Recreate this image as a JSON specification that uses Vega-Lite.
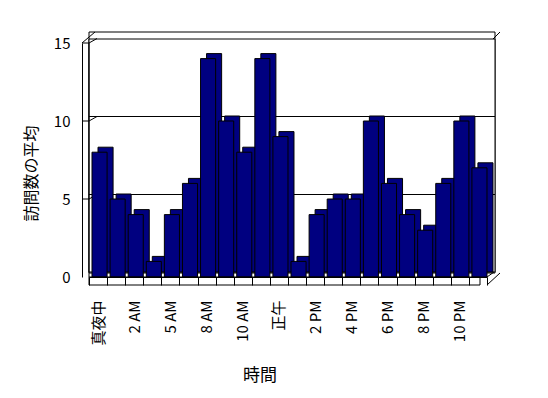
{
  "$schema": "https://vega.github.io/schema/vega-lite/v6.json",
  "width": 398,
  "height": 234,
  "autosize": "none",
  "padding": {"left": 89, "top": 43, "right": 61, "bottom": 121},
  "background": "white",
  "config": {"view": {"stroke": null}, "font": "Noto Sans CJK JP"},
  "datasets": {
    "visits": [
      {"hour": "真夜中", "v": 8},
      {"hour": "1 AM", "v": 5},
      {"hour": "2 AM", "v": 4},
      {"hour": "3 AM", "v": 1},
      {"hour": "5 AM", "v": 4},
      {"hour": "6 AM", "v": 6},
      {"hour": "8 AM", "v": 14},
      {"hour": "9 AM", "v": 10},
      {"hour": "10 AM", "v": 8},
      {"hour": "11 AM", "v": 14},
      {"hour": "正午", "v": 9},
      {"hour": "1 PM", "v": 1},
      {"hour": "2 PM", "v": 4},
      {"hour": "3 PM", "v": 5},
      {"hour": "4 PM", "v": 5},
      {"hour": "5 PM", "v": 10},
      {"hour": "6 PM", "v": 6},
      {"hour": "7 PM", "v": 4},
      {"hour": "8 PM", "v": 3},
      {"hour": "9 PM", "v": 6},
      {"hour": "10 PM", "v": 10},
      {"hour": "11 PM", "v": 7}
    ],
    "grid": [{"v": 5}, {"v": 10}],
    "wall": [{"v": 5}, {"v": 10}, {"v": 15}],
    "one": [{"v": 15}]
  },
  "layer": [
    {
      "data": {"name": "one"},
      "mark": {"type": "rect", "fill": "white", "stroke": "black", "strokeWidth": 1, "xOffset": 8, "x2Offset": 13, "yOffset": -11, "y2Offset": -4},
      "encoding": {"y": {"datum": 15, "type": "quantitative"}, "y2": {"datum": 0}}
    },
    {
      "data": {"name": "one"},
      "mark": {"type": "rect", "fill": "white", "stroke": "black", "strokeWidth": 1, "xOffset": 8, "x2Offset": 6, "yOffset": -4, "y2Offset": -5},
      "encoding": {"y": {"datum": 15, "type": "quantitative"}, "y2": {"datum": 0}}
    },
    {
      "data": {"name": "grid"},
      "mark": {"type": "rule", "color": "black", "strokeWidth": 1, "xOffset": 8, "x2Offset": 6, "yOffset": -4.5},
      "encoding": {"y": {"field": "v", "type": "quantitative"}}
    },
    {
      "data": {"name": "one"},
      "mark": {"type": "rule", "color": "black", "strokeWidth": 1},
      "encoding": {
        "x": {"datum": "真夜中", "type": "nominal", "bandPosition": 0},
        "y": {"datum": 15, "type": "quantitative"},
        "y2": {"datum": 0}
      }
    },
    {
      "data": {"name": "wall"},
      "mark": {"type": "rule", "color": "black", "strokeWidth": 1, "xOffset": -7, "x2Offset": 0},
      "encoding": {
        "x": {"datum": "真夜中", "type": "nominal", "bandPosition": 0},
        "x2": {"datum": "真夜中", "bandPosition": 0},
        "y": {"field": "v", "type": "quantitative"},
        "y2": {"field": "v"}
      }
    },
    {
      "data": {"name": "wall"},
      "mark": {"type": "rule", "color": "black", "strokeWidth": 1, "xOffset": 0, "x2Offset": 8, "y2Offset": -4.5},
      "encoding": {
        "x": {"datum": "真夜中", "type": "nominal", "bandPosition": 0},
        "x2": {"datum": "真夜中", "bandPosition": 0},
        "y": {"field": "v", "type": "quantitative"},
        "y2": {"field": "v"}
      }
    },
    {
      "data": {"name": "one"},
      "mark": {"type": "rule", "color": "black", "strokeWidth": 1, "xOffset": -7, "x2Offset": 6, "y2Offset": -11},
      "encoding": {
        "x": {"datum": "真夜中", "type": "nominal", "bandPosition": 0},
        "x2": {"datum": "真夜中", "bandPosition": 0},
        "y": {"datum": 15, "type": "quantitative"},
        "y2": {"datum": 15}
      }
    },
    {
      "data": {"name": "visits"},
      "mark": {"type": "bar", "fill": "#000080", "stroke": "black", "strokeWidth": 1, "width": {"band": 0.833}, "xOffset": 7.5, "yOffset": -5, "y2Offset": -5},
      "encoding": {
        "x": {"field": "hour", "type": "nominal", "sort": null},
        "y": {"field": "v", "type": "quantitative"}
      }
    },
    {
      "data": {"name": "visits"},
      "mark": {"type": "bar", "fill": "#000080", "stroke": "black", "strokeWidth": 1, "width": {"band": 0.833}, "xOffset": 1.5},
      "encoding": {
        "x": {
          "field": "hour",
          "type": "nominal",
          "sort": null,
          "scale": {
            "domain": ["真夜中", "1 AM", "2 AM", "3 AM", "5 AM", "6 AM", "8 AM", "9 AM", "10 AM", "11 AM", "正午", "1 PM", "2 PM", "3 PM", "4 PM", "5 PM", "6 PM", "7 PM", "8 PM", "9 PM", "10 PM", "11 PM"],
            "paddingInner": 0,
            "paddingOuter": 0
          },
          "axis": {
            "title": "時間",
            "titleFontSize": 17,
            "titleFontWeight": "normal",
            "titleColor": "black",
            "titleX": 170.5,
            "titleY": 98,
            "titleBaseline": "middle",
            "titleAlign": "center",
            "labelAngle": 270,
            "labelAlign": "right",
            "labelBaseline": "middle",
            "labelPadding": 15,
            "labelFontSize": 15,
            "labelColor": "black",
            "labelOverlap": false,
            "labelExpr": "indexof(['真夜中','2 AM','5 AM','8 AM','10 AM','正午','2 PM','4 PM','6 PM','8 PM','10 PM'], datum.value) >= 0 ? datum.value : ''",
            "tickBand": "extent",
            "tickSize": 8,
            "tickColor": "black",
            "domainColor": "black",
            "zindex": 1
          }
        },
        "y": {
          "field": "v",
          "type": "quantitative",
          "scale": {"domain": [0, 15], "nice": false},
          "axis": {
            "title": "訪問数の平均",
            "titleFontSize": 16,
            "titleFontWeight": "normal",
            "titleColor": "black",
            "titleX": -51,
            "titleY": 130,
            "titleBaseline": "middle",
            "titleAlign": "center",
            "titleAngle": 270,
            "offset": 7,
            "values": [0, 5, 10, 15],
            "ticks": false,
            "labelPadding": 12,
            "labelFontSize": 15,
            "labelColor": "black",
            "domainColor": "black",
            "grid": false,
            "zindex": 1
          }
        }
      }
    },
    {
      "data": {"name": "one"},
      "mark": {"type": "rect", "fill": "white", "stroke": "black", "strokeWidth": 1, "xOffset": -7, "y2Offset": 8},
      "encoding": {"y": {"datum": 0, "type": "quantitative"}, "y2": {"datum": 0}}
    },
    {
      "data": {"name": "one"},
      "mark": {"type": "rule", "color": "black", "strokeWidth": 1, "xOffset": 0, "x2Offset": 13, "yOffset": 8, "y2Offset": -4},
      "encoding": {
        "x": {"datum": "11 PM", "type": "nominal", "bandPosition": 1},
        "x2": {"datum": "11 PM", "bandPosition": 1},
        "y": {"datum": 0, "type": "quantitative"},
        "y2": {"datum": 0}
      }
    },
    {
      "data": {"name": "one"},
      "mark": {"type": "rule", "color": "black", "strokeWidth": 1, "xOffset": 0, "x2Offset": 7, "yOffset": 0, "y2Offset": -5},
      "encoding": {
        "x": {"datum": "11 PM", "type": "nominal", "bandPosition": 1},
        "x2": {"datum": "11 PM", "bandPosition": 1},
        "y": {"datum": 0, "type": "quantitative"},
        "y2": {"datum": 0}
      }
    },
    {
      "data": {"name": "one"},
      "mark": {"type": "rule", "color": "black", "strokeWidth": 1, "xOffset": 6, "x2Offset": 13, "yOffset": -4, "y2Offset": -11},
      "encoding": {
        "x": {"datum": "11 PM", "type": "nominal", "bandPosition": 1},
        "x2": {"datum": "11 PM", "bandPosition": 1},
        "y": {"datum": 15, "type": "quantitative"},
        "y2": {"datum": 15}
      }
    }
  ]
}
